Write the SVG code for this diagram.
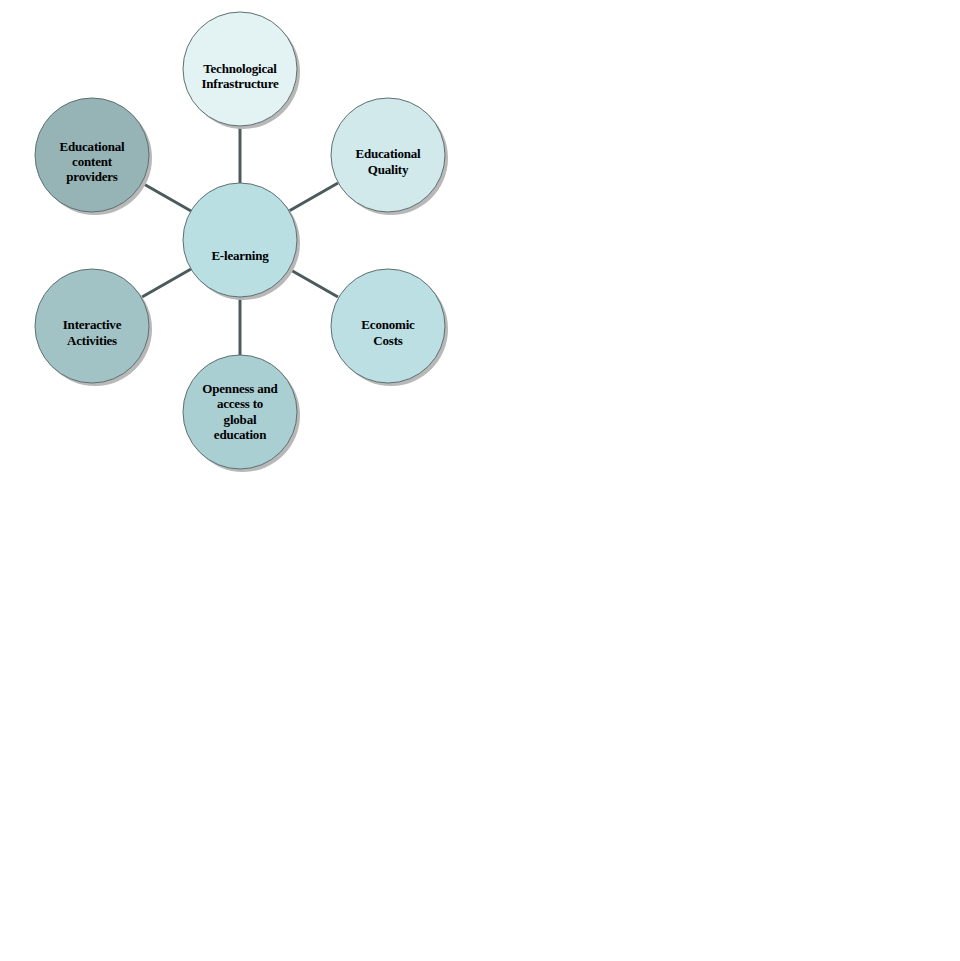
<svg xmlns="http://www.w3.org/2000/svg" width="960" height="961" viewBox="0 0 960 961">
<style>
.n{stroke:#5f6f70;stroke-width:1}
.sh{fill:#b8b8b8}
.t{font-family:"Liberation Serif","Times New Roman",serif;font-weight:bold;font-size:13px;letter-spacing:-0.2px;fill:#000;text-anchor:middle}
.c{stroke:#4b5b5c;stroke-width:3;fill:none}
</style>
<rect width="960" height="961" fill="#fff"/>
<g id="connectors">
<line class="c" x1="240" y1="126" x2="240" y2="183"/>
<line class="c" x1="240" y1="297" x2="240" y2="355"/>
<line class="c" x1="191" y1="211" x2="142" y2="183"/>
<line class="c" x1="289" y1="211" x2="338" y2="183"/>
<line class="c" x1="191" y1="269" x2="142" y2="297"/>
<line class="c" x1="289" y1="269" x2="338" y2="297"/>
</g>
<g id="node-tech">
<circle class="sh" cx="243" cy="72" r="57"/>
<circle class="n" cx="240" cy="69" r="57" fill="#e3f3f3"/>
<text class="t" x="240" y="73">Technological</text>
<text class="t" x="240" y="88">Infrastructure</text>
</g>
<g id="node-providers">
<circle class="sh" cx="95" cy="158" r="57"/>
<circle class="n" cx="92" cy="155" r="57" fill="#96b4b6"/>
<text class="t" x="92" y="151">Educational</text>
<text class="t" x="92" y="166">content</text>
<text class="t" x="92" y="181">providers</text>
</g>
<g id="node-quality">
<circle class="sh" cx="391" cy="158" r="57"/>
<circle class="n" cx="388" cy="155" r="57" fill="#d1e9eb"/>
<text class="t" x="388" y="158">Educational</text>
<text class="t" x="388" y="174">Quality</text>
</g>
<g id="node-elearning">
<circle class="sh" cx="243" cy="243" r="57"/>
<circle class="n" cx="240" cy="240" r="57" fill="#b9dfe3"/>
<text class="t" x="240" y="260">E-learning</text>
</g>
<g id="node-interactive">
<circle class="sh" cx="95" cy="329" r="57"/>
<circle class="n" cx="92" cy="326" r="57" fill="#a2c3c5"/>
<text class="t" x="92" y="329">Interactive</text>
<text class="t" x="92" y="345">Activities</text>
</g>
<g id="node-costs">
<circle class="sh" cx="391" cy="329" r="57"/>
<circle class="n" cx="388" cy="326" r="57" fill="#bbdfe3"/>
<text class="t" x="388" y="329">Economic</text>
<text class="t" x="388" y="345">Costs</text>
</g>
<g id="node-openness">
<circle class="sh" cx="243" cy="415" r="57"/>
<circle class="n" cx="240" cy="412" r="57" fill="#aacfd3"/>
<text class="t" x="240" y="393">Openness and</text>
<text class="t" x="240" y="408">access to</text>
<text class="t" x="240" y="424">global</text>
<text class="t" x="240" y="439">education</text>
</g>
</svg>
